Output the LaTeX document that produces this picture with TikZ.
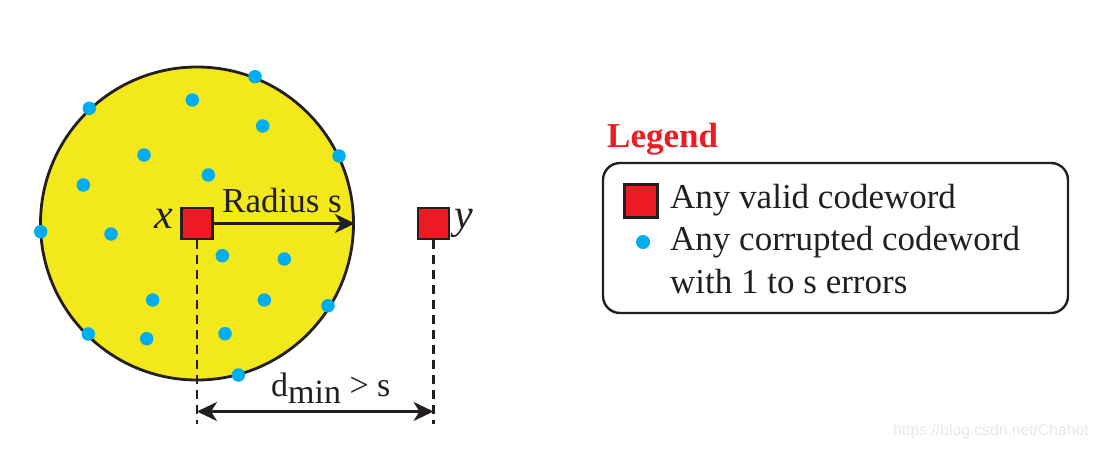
\documentclass[tikz,border=0pt]{standalone}
\usepackage{fontspec}
\setmainfont{Liberation Serif}
\newfontfamily\wmfont{Liberation Sans}
\usetikzlibrary{arrows.meta}
\definecolor{cyel}{RGB}{242,232,28}
\definecolor{cred}{RGB}{237,28,36}
\definecolor{cblue}{RGB}{0,174,239}
\definecolor{cdark}{RGB}{35,31,32}
\definecolor{cwm}{RGB}{232,232,232}
\begin{document}
\begin{tikzpicture}[x=1pt,y=-1pt,
  dot/.style={circle,fill=cblue,inner sep=0pt,minimum size=13.5pt},
  codesq/.style={draw=cdark,line width=2.4pt,fill=cred,inner sep=0pt,minimum size=31pt},
  lbl/.style={inner sep=0pt,font=\fontsize{35}{42}\selectfont,text=cdark},
  oneway/.style={cdark,line width=2.8pt,-{Stealth[length=20pt,width=19pt,inset=6pt]}},
  twoway/.style={cdark,line width=2.8pt,{Stealth[length=20pt,width=19pt,inset=6pt]}-{Stealth[length=20pt,width=19pt,inset=6pt]}},
  guide/.style={draw=cdark,line width=2.3pt,dash pattern=on 9pt off 6pt},
  ]
\useasboundingbox (0,0) rectangle (1099,449);
% sphere of radius s
\node[circle,draw=cdark,line width=2.8pt,fill=cyel,minimum size=313pt,inner sep=0pt] (ball) at (197,223.5) {};
% corrupted codewords
\node[dot] (d1) at (255,76.7) {};
\node[dot] (d2) at (192.3,100) {};
\node[dot] (d3) at (89.3,108.3) {};
\node[dot] (d4) at (262.7,126) {};
\node[dot] (d5) at (339,156) {};
\node[dot] (d6) at (144,155) {};
\node[dot] (d7) at (208.3,175) {};
\node[dot] (d8) at (83.3,185) {};
\node[dot] (d9) at (40.7,231.7) {};
\node[dot] (d10) at (111,234) {};
\node[dot] (d11) at (222.3,255.7) {};
\node[dot] (d12) at (284.3,259) {};
\node[dot] (d13) at (152.7,300) {};
\node[dot] (d14) at (264.3,300) {};
\node[dot] (d15) at (328,305.7) {};
\node[dot] (d16) at (88.3,334) {};
\node[dot] (d17) at (146.7,338.7) {};
\node[dot] (d18) at (225,333.7) {};
\node[dot] (d19) at (238.3,375) {};
% valid codewords
\node[codesq] (x) at (197,223.5) {};
\node[codesq] (y) at (433.5,223.5) {};
\node[lbl,anchor=base east,font=\fontsize{42}{48}\selectfont] (xl) at (173,228) {\itshape x};
\node[lbl,anchor=base west,font=\fontsize{42}{48}\selectfont] (yl) at (454,228) {\itshape y};
% radius
\node[lbl,anchor=base west] (rad) at (222,212) {Radius s};
\draw[oneway] (x.east) -- (ball.east);
% d_min
\coordinate (xb) at (197,424);
\coordinate (yb) at (433.5,424);
\coordinate (da) at (197,411.5);
\coordinate (db) at (433.5,411.5);
\draw[guide] (x.south) -- (xb);
\draw[guide] (y.south) -- (yb);
\draw[twoway] (da) -- (db);
\node[lbl,anchor=base west,font=\fontsize{34}{40}\selectfont] (dmin) at (271,396) {d\raisebox{-7pt}{min} > s};
% legend
\node[font=\bfseries\fontsize{35}{42}\selectfont,text=cred,anchor=base west,inner sep=0pt] (leg) at (607,148) {Legend};
\node[draw=cdark,line width=2.4pt,rounded corners=17pt,minimum width=465pt,minimum height=150pt,inner sep=0pt] (box) at (835.5,238) {};
\node[codesq,minimum size=33pt] (lsq) at (641,201) {};
\node[dot,minimum size=14pt] (ldot) at (643,242) {};
\node[lbl,anchor=base west] (t1) at (670,208) {Any valid codeword};
\node[lbl,anchor=base west] (t2) at (670,250) {Any corrupted codeword};
\node[lbl,anchor=base west] (t3) at (670,293) {with 1 to s errors};
% watermark
\node[font=\wmfont\fontsize{15.7}{18}\selectfont,text=cwm,anchor=base west,inner sep=0pt] (wm) at (893,435) {https://blog.csdn.net/Chahot};
\end{tikzpicture}
\end{document}
